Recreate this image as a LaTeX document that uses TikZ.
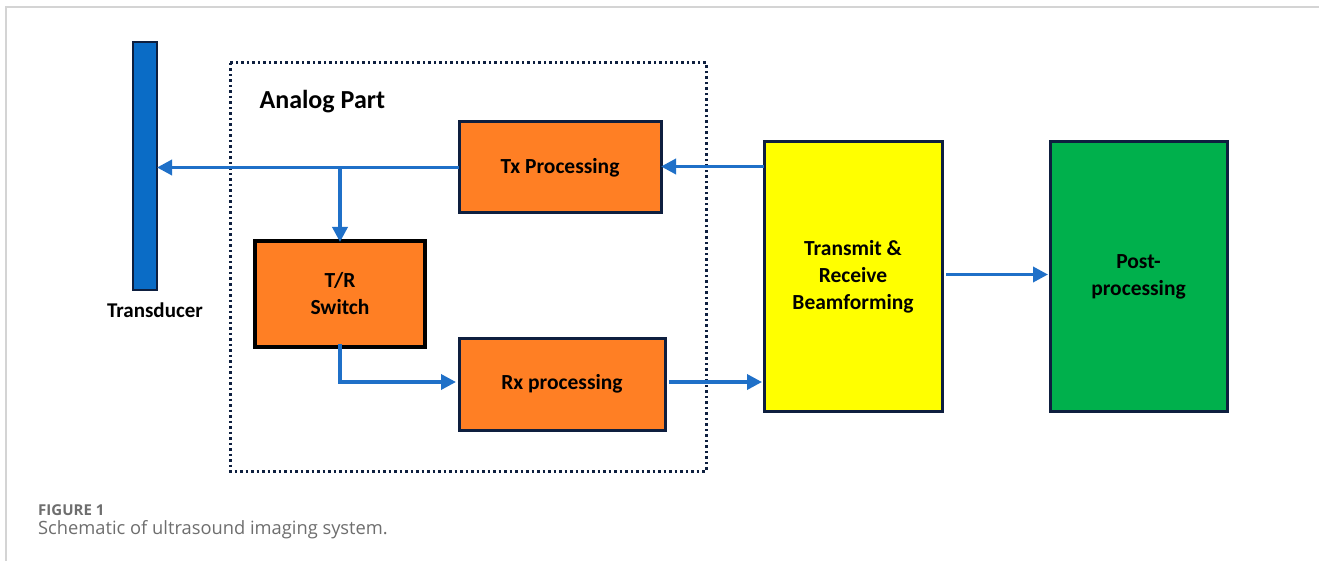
\documentclass[tikz,border=0pt]{standalone}
\usepackage{fontspec}
\setmainfont{Carlito}
\newfontfamily\capfont{Open Sans}
\usetikzlibrary{arrows.meta}
\definecolor{navyline}{HTML}{0E1F3F}
\definecolor{flowblue}{HTML}{1F70C8}
\definecolor{barblue}{HTML}{0A6CC6}
\definecolor{boxorange}{HTML}{FF7F24}
\definecolor{boxyellow}{HTML}{FFFF00}
\definecolor{boxgreen}{HTML}{00B04C}
\definecolor{framegray}{HTML}{D4D4D4}
\definecolor{capgray}{HTML}{6E6E6E}
\tikzset{
  block/.style={draw=navyline, line width=3pt, inner sep=0pt, outer sep=0pt,
    align=center, font=\bfseries\fontsize{21.5}{27}\selectfont},
  flow/.style={draw=flowblue, line width=3.5pt,
    -{Triangle[length=15pt,width=15pt]}},
  partframe/.style={draw=navyline, line width=3pt, dash pattern=on 2.5pt off 3pt}
}
\begin{document}
\begin{tikzpicture}[x=1pt,y=-1pt]
\useasboundingbox (0,0) rectangle (1319,561);
\fill[white] (0,0) rectangle (1319,561);
\draw[framegray, line width=1.5pt] (6,561) -- (6,7) -- (1319,7);

% analog section outline
\draw[partframe] (230,63) rectangle (706,471);
\node[font=\bfseries\fontsize{26}{30}\selectfont, anchor=west] (analog) at (256,102) {Analog Part};

% transducer element
\node[draw=navyline, line width=2.5pt, fill=barblue, minimum width=24pt, minimum height=248pt,
  inner sep=0pt, outer sep=0pt] (td) at (145,166) {};
\node[font=\bfseries\fontsize{21}{24}\selectfont] (tdlabel) at (155,310) {Transducer};

% processing blocks
\node[block, fill=boxorange, minimum width=202pt, minimum height=91pt] (tx) at (560,167.5) {Tx Processing};
\node[block, draw=black, line width=3.5pt, fill=boxorange, minimum width=170pt, minimum height=106pt] (tr) at (340,294) {T/R\\Switch};
\node[block, fill=boxorange, minimum width=206pt, minimum height=92pt] (rx) at (562,384) {Rx processing};
\node[block, fill=boxyellow, minimum width=178pt, minimum height=269pt] (bf) at (853,276.5) {Transmit \&\\Receive\\Beamforming};
\node[block, fill=boxgreen, minimum width=177pt, minimum height=269pt] (pp) at (1138.5,276.5) {Post-\\processing};

% signal paths
\draw[flow] (tx.west) -- (tx.west -| td.east);
\draw[flow] (tx.west -| tr.north) -- ([yshift=-1pt]tr.north);
\draw[flow, shorten >=3pt] ([yshift=3pt]tr.south) |- ([yshift=2pt]rx.west);
\draw[flow, shorten >=2pt] ([xshift=4pt,yshift=2pt]rx.east) -- ([yshift=2pt]rx.east -| bf.west);
\draw[flow] ([yshift=1pt]bf.west |- tx.east) -- ([yshift=1pt]tx.east);
\draw[flow, shorten >=2pt] ([xshift=4pt,yshift=2pt]bf.east) -- ([yshift=2pt]pp.west);

% caption
\node[anchor=base west, inner sep=0pt, text=capgray, font=\capfont\bfseries\fontsize{15}{18}\selectfont] (fig) at (38,515) {FIGURE 1};
\node[anchor=base west, inner sep=0pt, text=capgray, font=\capfont\fontsize{18.3}{22}\selectfont] (caption) at (38,534) {Schematic of ultrasound imaging system.};
\end{tikzpicture}
\end{document}
